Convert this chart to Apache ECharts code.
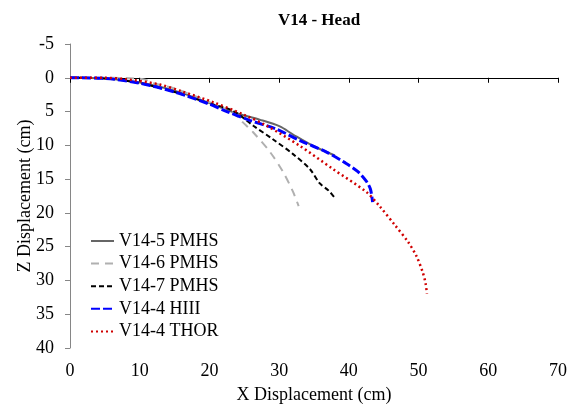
<!DOCTYPE html>
<html>
<head>
<meta charset="utf-8">
<script src="https://cdn.jsdelivr.net/npm/echarts@6/dist/echarts.min.js"></script>
<style>
  html, body { margin: 0; padding: 0; background: #fff; }
  #chart { width: 574px; height: 409px; }
</style>
</head>
<body>
<div id="chart"></div>
<script>
  // [x, z] displacement in cm
  var v145Pmhs = [[0, 0], [5, 0.1], [10, 0.7], [15, 1.9], [18.6, 3.2], [23.4, 5.1], [27.2, 6.2],
    [30.1, 7.2], [32, 8.4], [34.9, 10.1], [38, 11.5]]
  var v146Pmhs = [[0, 0], [5, 0], [10.5, 0.2], [12, 0.8], [15, 1.6], [20, 3.6], [23.4, 5.2], [24.8, 6.6],
    [26.3, 8.1], [28.7, 11.0], [30.6, 14.0], [32.0, 16.9], [32.8, 19.0]]
  var v147Pmhs = [[0, 0], [5, 0.1], [10, 0.8], [15, 2.1], [20, 3.8], [23.4, 4.9], [26.3, 7.1],
    [29.1, 9.1], [32.0, 11.3], [34.4, 13.5], [35.8, 15.6], [37.1, 16.7], [38.0, 17.8]]
  var v144Hiii = [[0, 0], [5, 0.1], [10, 0.8], [15, 2.1], [20, 3.9], [22.5, 5.0], [25.8, 6.3],
    [29.6, 7.6], [33, 9.3], [36.8, 11.0], [39.5, 12.6], [41.3, 13.9], [42.5, 15.3], [43.1, 16.5], [43.4, 18.4]]
  var v144Thor = [[0, 0], [5, 0], [8, 0.2], [12.9, 1.0], [16, 2.0], [20.5, 3.6], [24.8, 5.4],
    [28.2, 7.1], [33, 10.1], [37.7, 13.5], [42.5, 16.9], [44.4, 19.0], [46.6, 21.8], [48.5, 24.3],
    [49.7, 26.4], [50.6, 28.8], [51.0, 30.4], [51.2, 32.0]]

  var seriesNames = ['V14-5 PMHS', 'V14-6 PMHS', 'V14-7 PMHS', 'V14-4 HIII', 'V14-4 THOR']

  var font = "'Liberation Serif', 'Times New Roman', serif"

  function line (name, data, color, width, type) {
    return {
      name: name,
      type: 'line',
      data: data,
      symbol: 'none',
      smooth: 0.3,
      lineStyle: { color: color, width: width, type: type },
      itemStyle: { color: color }
    }
  }

  var myChart = echarts.init(document.getElementById('chart'))

  myChart.setOption({
    animation: false,
    textStyle: { fontFamily: font },
    title: {
      text: 'V14 - Head',
      left: 314,
      textAlign: 'center',
      top: 7,
      textStyle: { fontFamily: font, fontSize: 17, fontWeight: 'bold', color: '#000' }
    },
    grid: { left: 70, right: 16, top: 44, bottom: 58 },
    legend: {
      orient: 'vertical',
      left: 90,
      top: 232,
      padding: 0,
      itemGap: 4.6,
      itemWidth: 23,
      itemHeight: 14,
      data: seriesNames,
      // hide the symbol dot, keep only the line sample
      itemStyle: { opacity: 0 },
      textStyle: { fontFamily: font, fontSize: 18, color: '#000', lineHeight: 18 }
    },
    xAxis: {
      type: 'value',
      min: 0,
      max: 70,
      interval: 10,
      name: 'X Displacement (cm)',
      nameLocation: 'middle',
      nameGap: 38,
      nameMoveOverlap: false,
      nameTextStyle: { fontFamily: font, fontSize: 18, color: '#000' },
      axisLine: { lineStyle: { color: '#000', width: 1 } },
      axisTick: { show: true, length: 5, lineStyle: { color: '#000' } },
      axisLabel: { fontFamily: font, fontSize: 18, color: '#000', margin: 14 },
      splitLine: { show: false }
    },
    yAxis: {
      type: 'value',
      inverse: true,
      min: -5,
      max: 40,
      interval: 5,
      name: 'Z Displacement (cm)',
      nameLocation: 'middle',
      nameGap: 36,
      nameMoveOverlap: false,
      nameTextStyle: { fontFamily: font, fontSize: 18, color: '#000' },
      axisLine: { show: true, lineStyle: { color: '#868686', width: 1 } },
      axisTick: { show: true, length: 5, lineStyle: { color: '#868686' } },
      axisLabel: { fontFamily: font, fontSize: 18, color: '#000', margin: 16 },
      splitLine: { show: false }
    },
    series: [
      line(seriesNames[0], v145Pmhs, '#666666', 2, 'solid'),
      line(seriesNames[1], v146Pmhs, '#b0b0b0', 2, [8, 6]),
      line(seriesNames[2], v147Pmhs, '#000000', 2, [5, 3]),
      line(seriesNames[3], v144Hiii, '#0000ff', 3, [9, 3]),
      line(seriesNames[4], v144Thor, '#d00000', 2.5, [2, 3])
    ]
  })
</script>
</body>
</html>
